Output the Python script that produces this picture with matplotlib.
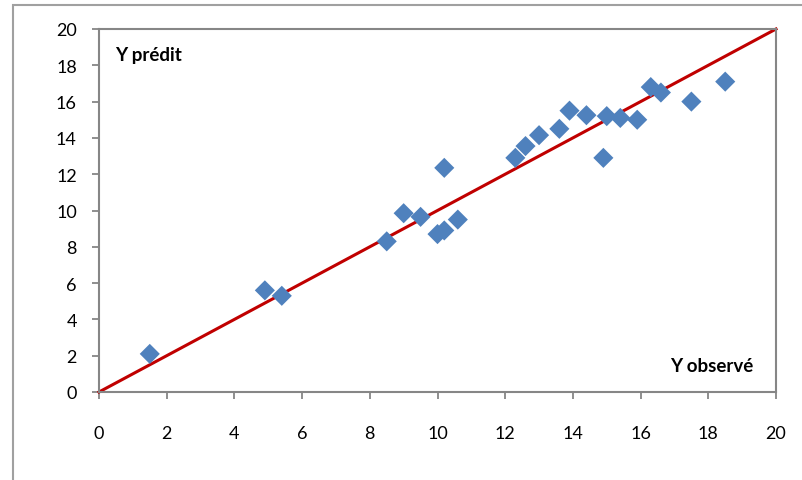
import matplotlib
matplotlib.use("Agg")
import matplotlib.pyplot as plt
from matplotlib.patches import Rectangle

y_observe = [1.5, 4.9, 5.4, 8.5, 9.0, 9.5, 10.0, 10.2, 10.2, 10.6,
             12.3, 12.6, 13.0, 13.6, 13.9, 14.4, 14.9, 15.0, 15.4, 15.9,
             16.3, 16.6, 17.5, 18.5]
y_predit = [2.1, 5.6, 5.3, 8.3, 9.85, 9.65, 8.7, 8.9, 12.35, 9.5,
            12.9, 13.55, 14.15, 14.5, 15.5, 15.25, 12.9, 15.2, 15.1, 15.0,
            16.8, 16.5, 16.0, 17.1]
line_x = [0, 20]
line_y = [0, 20]
ticks = [0, 2, 4, 6, 8, 10, 12, 14, 16, 18, 20]

plt.rcParams['font.family'] = ['Lato', 'DejaVu Sans']

W, H = 802, 481
fig = plt.figure(figsize=(W / 100, H / 100), dpi=100)

# outer chart frame
fig.patches.append(Rectangle((12.5 / W, -0.1), 1.2, 1 - 5.5 / H + 0.1,
                             transform=fig.transFigure, fill=False,
                             edgecolor='#A0A0A0', linewidth=1.5))

x0, x1, y0, y1 = 99, 776, 393, 30
ax = fig.add_axes([x0 / W, 1 - y0 / H, (x1 - x0) / W, (y0 - y1) / H])

ax.plot(line_x, line_y, color='#C00000', linewidth=2.2, zorder=2, clip_on=False)
ax.scatter(y_observe, y_predit, marker='D', s=105, color='#4F81BD',
           edgecolors='none', zorder=3)

ax.set_xlim(0, 20)
ax.set_ylim(0, 20)
ax.set_xticks(ticks)
ax.set_yticks(ticks)
for s in ax.spines.values():
    s.set_color('#868686')
    s.set_linewidth(1.5)
ax.tick_params(direction='out', length=5, width=1.3, color='#868686',
               labelsize=13, labelcolor='black')
ax.tick_params(axis='x', pad=19)
ax.tick_params(axis='y', pad=11)

ax.text(115 / W, 1 - 55 / H, 'Y prédit', transform=fig.transFigure,
        fontsize=13.5, fontweight='bold', ha='left', va='center')
ax.text(753 / W, 1 - 367 / H, 'Y observé', transform=fig.transFigure,
        fontsize=13.5, fontweight='bold', ha='right', va='center')

fig.savefig('out.png', dpi=100)
